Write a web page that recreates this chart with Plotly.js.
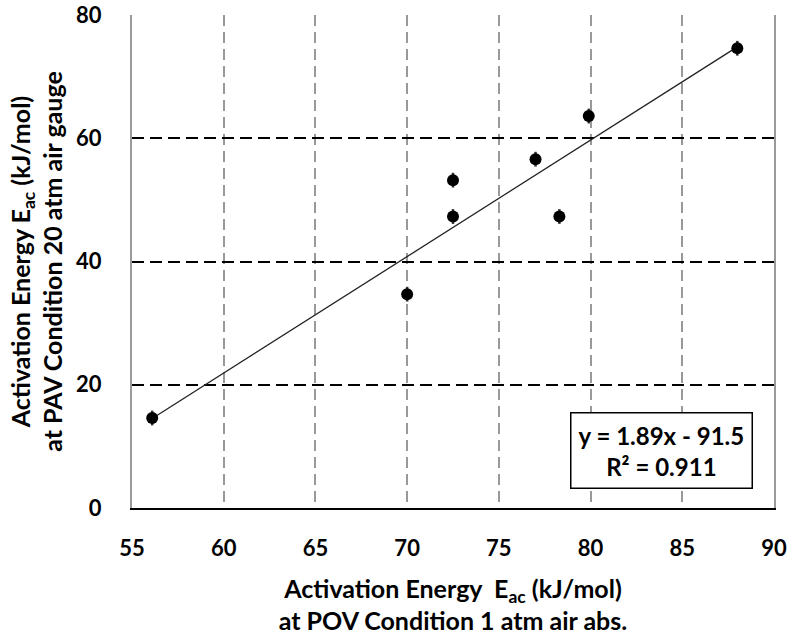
<!DOCTYPE html>
<html>
<head>
<meta charset="utf-8">
<script src="https://cdn.plot.ly/plotly-3.0.1.min.js"></script>
<style>body{margin:0;background:#fff}#chart{width:794px;height:636px}</style>
</head>
<body>
<div id="chart"></div>
<script>
// Data
const povEac = [56.1, 70.0, 72.5, 72.5, 77.0, 78.3, 79.9, 88.0];
const pavEac = [14.6, 34.7, 47.3, 53.2, 56.6, 47.3, 63.6, 74.6];
const errY   = [1.2, 1.2, 1.2, 1.2, 1.2, 1.2, 1.2, 1.2];
const slope = 1.89, intercept = -91.5, r2 = 0.911;
const xTicks = [55, 60, 65, 70, 75, 80, 85, 90];
const yTicks = [0, 20, 40, 60, 80];

const xMin = Math.min(...povEac), xMax = Math.max(...povEac);
const trendX = [xMin, xMax];
const trendY = trendX.map(v => slope * v + intercept);

const font = 'Lato, "Open Sans", sans-serif';

const traces = [
  {
    x: trendX, y: trendY, mode: 'lines', type: 'scatter',
    line: {color: '#222', width: 1.3}, hoverinfo: 'skip', showlegend: false
  },
  {
    x: povEac, y: pavEac, mode: 'markers', type: 'scatter',
    marker: {color: 'black', size: 12},
    error_y: {type: 'data', array: errY, visible: true, color: '#333', thickness: 2.5, width: 0},
    showlegend: false
  }
];

const layout = {
  width: 794, height: 636,
  margin: {l: 132, r: 20, t: 15, b: 128},
  paper_bgcolor: 'white', plot_bgcolor: 'white',
  font: {family: font, color: 'black'},
  xaxis: {
    range: [55, 90], tickvals: xTicks, ticktext: xTicks.map(String),
    showgrid: true, gridcolor: '#999999', griddash: '11px,6px', gridwidth: 2,
    zeroline: false, showline: true, linecolor: 'black', linewidth: 2,
    ticks: '', ticklabelstandoff: 20, automargin: false,
    tickfont: {family: font, size: 22, color: 'black', weight: 'bold'},
    title: {
      text: 'Activation Energy  E<sub>ac</sub> (kJ/mol)<br>at POV Condition 1 atm air abs.',
      font: {family: font, size: 25, color: 'black', weight: 'bold'},
      standoff: 20
    }
  },
  yaxis: {
    range: [0, 80], tickvals: yTicks, ticktext: yTicks.map(String),
    showgrid: true, gridcolor: 'black', griddash: '12px,6px', gridwidth: 2,
    zeroline: false, showline: true, linecolor: '#9a9a9a', linewidth: 2, mirror: true,
    ticks: '', ticklabelstandoff: 24, automargin: false,
    tickfont: {family: font, size: 22, color: 'black', weight: 'bold'},
    title: {
      text: 'Activation Energy E<sub>ac</sub> (kJ/mol)<br>at PAV Condition 20 atm air gauge',
      font: {family: font, size: 25, color: 'black', weight: 'bold'},
      standoff: 6
    }
  },
  annotations: [{
    xref: 'paper', yref: 'paper', x: 0.825, y: 0.117,
    xanchor: 'center', yanchor: 'middle', showarrow: false,
    text: 'y = ' + slope.toFixed(2) + 'x - ' + Math.abs(intercept).toFixed(1) + '<br>R\u00b2 = ' + r2.toFixed(3),
    font: {family: font, size: 24, color: 'black', weight: 'bold'},
    bgcolor: 'white', bordercolor: 'black', borderwidth: 1.5, borderpad: 7, align: 'center'
  }]
};

Plotly.newPlot('chart', traces, layout, {displayModeBar: false, staticPlot: true});
</script>
</body>
</html>
